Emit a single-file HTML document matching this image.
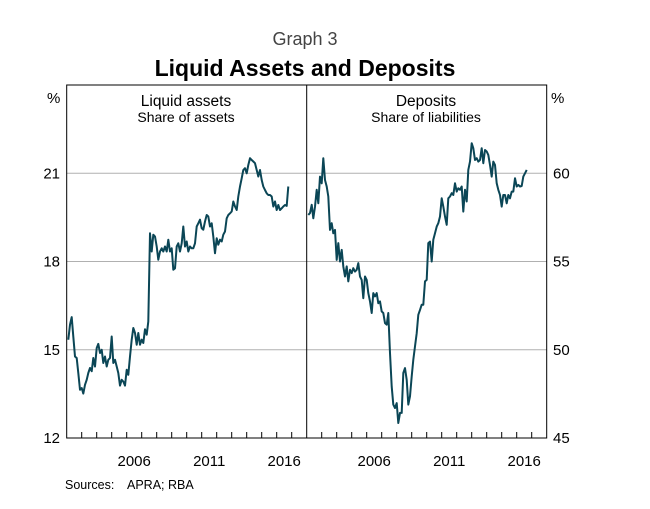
<!DOCTYPE html>
<html><head><meta charset="utf-8"><style>
body{margin:0;background:#fff;width:650px;height:504px;overflow:hidden;font-family:"Liberation Sans",sans-serif}
svg text{font-family:"Liberation Sans",sans-serif}
</style></head><body>
<svg id="c" width="650" height="504" xmlns="http://www.w3.org/2000/svg">
<text x="305" y="45" text-anchor="middle" font-size="18" fill="#444">Graph 3</text>
<text x="305" y="76" text-anchor="middle" font-size="23" font-weight="bold" fill="#000">Liquid Assets and Deposits</text>
<text x="186" y="106" text-anchor="middle" font-size="15.5">Liquid assets</text>
<text x="186" y="122" text-anchor="middle" font-size="14">Share of assets</text>
<text x="426" y="106" text-anchor="middle" font-size="15.5">Deposits</text>
<text x="426" y="122" text-anchor="middle" font-size="14">Share of liabilities</text>
<text x="47" y="103" font-size="15">%</text>
<text x="551" y="103" font-size="15">%</text>
<text x="65" y="489" font-size="12.5">Sources:<tspan x="127">APRA; RBA</tspan></text>
<g id="g"></g>
</svg>
<script>
const leftTicks=[12,15,18,21];
const rightTicks=[45,50,55,60];
const yearLabels=[2006,2011,2016];
const liquidAssets=[15.34,15.85,16.11,15.45,14.77,14.72,14.21,13.64,13.70,13.51,13.81,13.98,14.21,14.38,14.27,14.72,14.43,15.06,15.20,14.89,15.00,14.55,14.77,14.43,14.66,14.72,15.45,14.55,14.66,14.43,14.21,13.78,13.98,13.92,13.78,14.32,14.15,14.77,15.34,15.74,15.57,15.17,15.57,15.17,15.34,15.23,15.70,15.51,15.96,18.96,18.34,18.91,18.85,18.51,18.06,18.34,18.45,18.34,18.51,18.34,18.74,18.34,18.45,17.72,17.77,18.51,18.62,18.34,18.62,19.19,18.51,18.68,18.34,18.51,18.45,18.45,18.62,19.19,19.30,19.42,19.13,19.08,19.36,19.58,19.53,19.19,19.30,18.85,18.28,18.79,18.57,18.74,18.68,18.91,19.02,19.47,19.58,19.64,19.70,20.04,19.87,19.75,20.21,20.55,20.83,21.11,21.17,21.00,21.28,21.51,21.45,21.40,21.34,21.11,20.89,21.11,20.77,20.55,20.43,20.32,20.26,20.26,20.21,19.87,20.04,19.75,19.92,19.75,19.81,19.87,19.92,19.89,20.55];
const deposits=[57.64,57.74,58.21,57.45,58.11,59.06,58.30,59.81,59.43,60.85,59.62,59.25,58.68,56.79,57.17,56.60,56.79,55.09,56.04,55.00,55.66,54.72,54.15,54.72,53.87,54.53,54.34,54.62,54.43,54.53,54.91,54.15,53.96,52.92,54.15,53.96,53.21,52.74,52.08,53.21,53.02,53.21,52.64,52.74,52.17,52.08,51.51,51.42,52.08,49.81,47.92,46.89,46.70,46.98,45.85,46.42,46.42,48.68,48.96,48.30,46.89,47.36,48.49,49.43,50.19,50.94,51.98,52.26,52.55,52.55,53.87,53.96,56.04,56.13,55.00,56.23,56.60,56.98,57.17,57.55,58.58,58.11,57.55,57.08,58.58,58.68,58.87,58.77,59.43,58.96,59.15,59.06,59.25,57.83,59.06,58.40,60.19,60.66,61.70,61.42,60.75,60.85,60.66,60.75,61.42,60.57,61.32,61.23,61.04,60.47,59.81,60.66,60.47,59.43,59.06,58.77,58.11,58.77,58.77,58.30,58.77,58.58,58.96,58.96,59.72,59.25,59.34,59.25,59.28,59.81,60.00,60.19];
const startYear=2002.11, step=1/9;
const T=85,B=438,L0=66.7,L1=306.7,R1=546.7,YS=2002,PX=15;
const yl=v=>B-(v-12)*(B-T)/12;
const yr=v=>B-(v-45)*(B-T)/20;
const xl=t=>L0+(t-YS)*PX;
const xr=t=>L1+(t-YS)*PX;
const g=document.getElementById('g');
const NS='http://www.w3.org/2000/svg';
function mk(tag,attrs){const e=document.createElementNS(NS,tag);for(const k in attrs)e.setAttribute(k,attrs[k]);g.appendChild(e);return e;}
leftTicks.forEach(v=>{
  if(v>12){const l=mk('line',{x1:L0,x2:R1,y1:yl(v),y2:yl(v),stroke:'#b0b0b0','stroke-width':1});
  
  }
  const t=mk('text',{x:60,y:yl(v)+5,'text-anchor':'end','font-size':15});t.textContent=v;
  
  
});
rightTicks.forEach(v=>{
  const t=mk('text',{x:553,y:yr(v)+5,'font-size':15});t.textContent=v;
  
  
});
for(let y=YS+1;y<YS+16;y++){[xl,xr].forEach(f=>{
  const l=mk('line',{x1:f(y),x2:f(y),y1:B,y2:B-6,stroke:'#000','stroke-width':1});
  
  
});}
yearLabels.forEach(y=>{[xl,xr].forEach(f=>{
  const t=mk('text',{x:f(y+0.5),y:466,'text-anchor':'middle','font-size':15});t.textContent=y;
  
  
});});
function path(arr,fx,fy){return arr.map((v,i)=>(i?'L':'M')+fx(startYear+i*step).toFixed(1)+','+fy(v).toFixed(1)).join('');}
const p1=mk('path',{d:path(liquidAssets,xl,yl),fill:'none',stroke:'#0b4656','stroke-width':2,'stroke-linejoin':'round'});


const p2=mk('path',{d:path(deposits,xr,yr),fill:'none',stroke:'#0b4656','stroke-width':2,'stroke-linejoin':'round'});


const fr=mk('rect',{x:L0,y:T,width:R1-L0,height:B-T,fill:'none',stroke:'#000','stroke-width':1});


const dv=mk('line',{x1:L1,x2:L1,y1:T,y2:B,stroke:'#000','stroke-width':1});


</script>
</body></html>
